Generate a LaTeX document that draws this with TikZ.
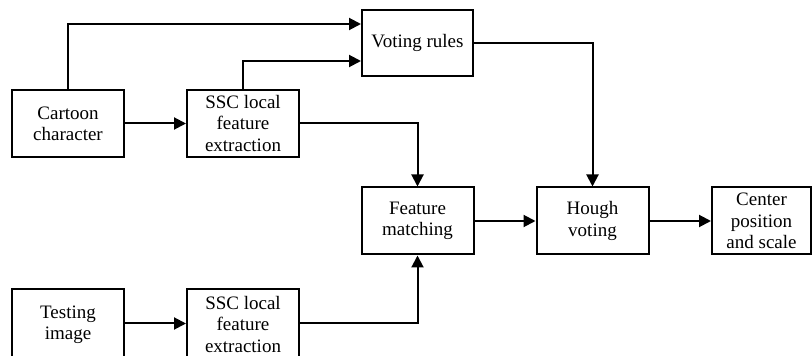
\documentclass[tikz,border=0pt]{standalone}
\usepackage{fontspec}
\setmainfont{Liberation Serif}
\usetikzlibrary{arrows.meta}
\begin{document}
\begin{tikzpicture}[x=1pt, y=1pt, line width=2pt,
	box/.style={draw, minimum width=112pt, minimum height=67pt, inner sep=0pt, align=center, font=\fontsize{19}{21.3}\selectfont},
	arr/.style={-{Triangle[length=12pt, width=12pt]}}]
	\useasboundingbox (0, 0) rectangle (812, 356);
	\node[box] (cartoon) at (68, 232.5) {Cartoon\\character};
	\node[box] (sscA) at (243, 232.5) {SSC local\\feature\\extraction};
	\node[box, minimum width=111pt, minimum height=66pt] (rules) at (417.5, 313) {Voting rules};
	\node[box] (match) at (417.5, 135) {Feature\\matching};
	\node[box] (hough) at (592.5, 135) {Hough\\voting};
	\node[box, minimum width=99pt] (result) at (761.5, 135) {Center\\position\\and scale};
	\node[box, minimum height=71pt] (testing) at (68, 31.5) {Testing\\image};
	\node[box, minimum height=71pt] (sscB) at (243, 31.5) {SSC local\\feature\\extraction};
	\draw[arr] (cartoon.north) |- ([yshift=19pt]rules.west);
	\draw[arr] (sscA.north) |- ([yshift=-18pt]rules.west);
	\draw[arr] (cartoon) -- (sscA);
	\draw[arr] (sscA.east) -| (match.north);
	\draw[arr] (rules.east) -| (hough.north);
	\draw[arr] (match) -- (hough);
	\draw[arr] (hough) -- (result);
	\draw[arr] ([yshift=1pt]testing.east) -- ([yshift=1pt]sscB.west);
	\draw[arr] ([yshift=1pt]sscB.east) -| (match.south);
\end{tikzpicture}
\end{document}
